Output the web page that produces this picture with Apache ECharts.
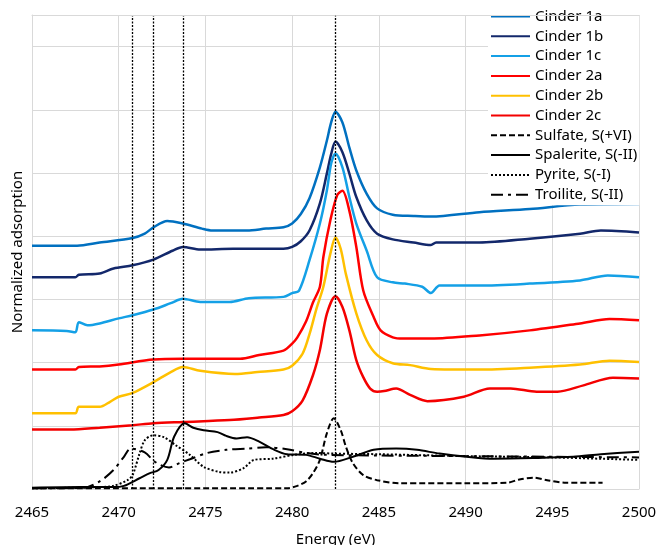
<!DOCTYPE html>
<html>
<head>
<meta charset="utf-8">
<script src="https://cdn.jsdelivr.net/npm/echarts@6/dist/echarts.min.js"></script>
<style>
  html, body { margin: 0; padding: 0; background: #fff; }
  #main { width: 659px; height: 545px; }
</style>
</head>
<body>
<div id="main"></div>
<script>
// S K-edge XANES, [energy eV, normalized absorption + offset]
var cinder1a = [[2465,3.85],[2467.6,3.85],[2468.9,3.9],[2470.8,3.97],[2471.5,4.04],[2472,4.14],[2472.8,4.24],[2473.7,4.2],[2474.8,4.12],[2475.4,4.09],[2477.4,4.09],[2478.5,4.12],[2479.5,4.14],[2480,4.2],[2480.5,4.35],[2481,4.6],[2481.6,5.09],[2482,5.51],[2482.25,5.8],[2482.5,5.97],[2482.9,5.8],[2483.3,5.4],[2483.7,5.04],[2484.3,4.67],[2484.9,4.44],[2485.8,4.34],[2487,4.32],[2488,4.31],[2490.8,4.38],[2493.7,4.43],[2496.6,4.5],[2500,4.51]];
var cinder1b = [[2465,3.35],[2467.5,3.35],[2467.7,3.39],[2468.9,3.41],[2469.7,3.49],[2470.8,3.54],[2472,3.63],[2473.1,3.77],[2473.7,3.83],[2474.7,3.79],[2476.6,3.8],[2479.5,3.8],[2480,3.83],[2480.5,3.92],[2481,4.09],[2481.6,4.52],[2482,4.99],[2482.25,5.3],[2482.5,5.5],[2482.9,5.33],[2483.3,4.99],[2483.7,4.62],[2484.3,4.25],[2484.9,4.04],[2485.8,3.95],[2487,3.9],[2488,3.86],[2488.3,3.9],[2490.8,3.9],[2493.7,3.96],[2496.6,4.04],[2497.8,4.09],[2500,4.06]];
var cinder1c = [[2465,2.51],[2467,2.5],[2467.5,2.48],[2467.7,2.64],[2468.2,2.59],[2468.9,2.62],[2470,2.7],[2470.8,2.75],[2472,2.84],[2473,2.94],[2473.7,3.01],[2474.7,2.96],[2476.4,2.96],[2477.5,3.02],[2479.5,3.04],[2480,3.1],[2480.4,3.14],[2481,3.62],[2481.6,4.2],[2482,4.72],[2482.25,5.15],[2482.5,5.31],[2482.9,5.09],[2483.3,4.62],[2483.7,4.2],[2484.3,3.77],[2484.9,3.35],[2485.8,3.27],[2486.5,3.25],[2487.5,3.2],[2488,3.1],[2488.5,3.22],[2490.8,3.22],[2493.7,3.25],[2496.6,3.3],[2498.2,3.38],[2500,3.35]];
var cinder2a = [[2465,1.89],[2467.5,1.89],[2467.7,1.93],[2468.9,1.94],[2470,1.97],[2472,2.05],[2473.7,2.06],[2477,2.06],[2478.1,2.12],[2479.5,2.19],[2480,2.3],[2480.3,2.4],[2480.8,2.65],[2481.2,2.95],[2481.6,3.2],[2481.8,3.67],[2482.2,4.25],[2482.6,4.65],[2482.9,4.72],[2483.3,4.4],[2483.7,3.83],[2484.1,3.14],[2484.7,2.72],[2485.1,2.51],[2485.8,2.4],[2486.4,2.38],[2488,2.38],[2490.8,2.43],[2493.7,2.51],[2496.6,2.62],[2498.3,2.69],[2500,2.67]];
var cinder2b = [[2465,1.2],[2467.5,1.2],[2467.7,1.3],[2468.9,1.3],[2469.5,1.38],[2470,1.46],[2470.8,1.52],[2472,1.69],[2473,1.85],[2473.7,1.93],[2474.7,1.87],[2476.7,1.82],[2478,1.85],[2479.5,1.89],[2480,1.95],[2480.6,2.14],[2481,2.45],[2481.4,2.85],[2481.8,3.2],[2482.2,3.72],[2482.5,3.98],[2482.8,3.8],[2483.1,3.4],[2483.7,2.78],[2484.3,2.35],[2484.9,2.12],[2485.8,1.99],[2486.8,1.96],[2488,1.9],[2490.8,1.89],[2493.7,1.92],[2496.6,1.97],[2498.3,2.03],[2500,2.01]];
var cinder2c = [[2465,0.94],[2467.2,0.94],[2468.9,0.97],[2470.8,1.01],[2472,1.04],[2473.7,1.06],[2476.4,1.09],[2478.1,1.13],[2479.5,1.17],[2480,1.23],[2480.6,1.4],[2481.2,1.8],[2481.6,2.2],[2482,2.77],[2482.5,3.05],[2482.9,2.88],[2483.3,2.51],[2483.7,2.04],[2484.1,1.77],[2484.5,1.59],[2484.9,1.54],[2485.3,1.55],[2486,1.59],[2486.8,1.49],[2487.8,1.39],[2489.9,1.46],[2491.4,1.59],[2492.6,1.59],[2494.1,1.54],[2495.3,1.54],[2496.8,1.64],[2498.5,1.76],[2500,1.75]];
var sulfate = [[2465,0.01],[2479.7,0.01],[2480.3,0.05],[2480.8,0.12],[2481.2,0.25],[2481.6,0.46],[2482,0.88],[2482.4,1.12],[2482.8,0.93],[2483.1,0.67],[2483.5,0.41],[2484.1,0.22],[2484.9,0.14],[2486.2,0.09],[2490.1,0.09],[2492.4,0.1],[2493.1,0.15],[2493.9,0.18],[2494.7,0.14],[2495.8,0.1],[2497.9,0.1]];
var spalerite = [[2465,0.02],[2467.8,0.03],[2469.7,0.03],[2470.3,0.05],[2471.2,0.17],[2471.8,0.25],[2472.3,0.3],[2472.8,0.46],[2473.2,0.83],[2473.8,1.04],[2474.3,0.97],[2474.9,0.93],[2475.7,0.9],[2476.2,0.84],[2476.8,0.8],[2477.4,0.82],[2478.1,0.75],[2478.9,0.63],[2479.7,0.55],[2480.8,0.54],[2481.6,0.48],[2482.4,0.43],[2483.5,0.51],[2484.7,0.62],[2486,0.64],[2487.2,0.62],[2488.5,0.56],[2490.1,0.51],[2491.6,0.48],[2493.9,0.49],[2496.2,0.51],[2497.8,0.55],[2500,0.59]];
var pyrite = [[2465,0.01],[2468.9,0.03],[2469.7,0.05],[2470.5,0.14],[2470.8,0.22],[2471.2,0.56],[2471.5,0.77],[2472,0.85],[2472.6,0.82],[2473.3,0.69],[2474.1,0.54],[2474.9,0.35],[2475.8,0.27],[2476.4,0.26],[2477.2,0.33],[2477.8,0.46],[2478.9,0.48],[2480.1,0.54],[2481.4,0.57],[2482.5,0.56],[2485,0.55],[2490,0.52],[2495,0.5],[2500,0.46]];
var troilite = [[2465,0.01],[2468,0.02],[2468.9,0.12],[2469.7,0.3],[2470.3,0.51],[2470.7,0.64],[2471.5,0.58],[2472,0.45],[2472.4,0.38],[2472.9,0.34],[2473.5,0.41],[2474.1,0.47],[2475.1,0.57],[2476.2,0.62],[2477.4,0.64],[2478.5,0.66],[2479.7,0.63],[2480.8,0.57],[2482,0.54],[2485,0.53],[2490,0.52],[2495,0.51],[2500,0.5]];

// reference energies (dotted verticals)
var markerEnergies = [2470.8, 2472.0, 2473.7, 2482.5];

var legendNames = ['Cinder 1a','Cinder 1b','Cinder 1c','Cinder 2a','Cinder 2b','Cinder 2c',
  'Sulfate, S(+VI)','Spalerite, S(-II)','Pyrite, S(-I)','Troilite, S(-II)'];

var font = 'Noto Sans';
var gridColor = '#d9d9d9';

function line(name, data, color, width, type) {
  return {
    name: name,
    type: 'line',
    data: data,
    symbol: 'none',
    showSymbol: false,
    smooth: 0.3,
    lineStyle: { color: color, width: width, type: type || 'solid' },
    itemStyle: { color: color },
    emphasis: { disabled: true }
  };
}

var chart = echarts.init(document.getElementById('main'));
chart.setOption({
  animation: false,
  textStyle: { fontFamily: font },
  grid: { left: 32, right: 20, top: 15, bottom: 56, outerBoundsMode: 'none' },
  legend: {
    data: legendNames,
    orient: 'vertical',
    left: 488,
    top: 9,
    padding: [0, 2, 3, 2],
    itemWidth: 39,
    itemHeight: 10,
    itemGap: 4.8,
    backgroundColor: '#fff',
    itemStyle: { opacity: 0 },
    textStyle: { fontFamily: font, fontSize: 15, color: '#000', lineHeight: 15 }
  },
  xAxis: [{
    type: 'value',
    min: 2465,
    max: 2500,
    interval: 5,
    name: 'Energy (eV)',
    nameLocation: 'middle',
    nameGap: 43,
    nameTextStyle: { fontSize: 15, color: '#000' },
    axisLine: { lineStyle: { color: gridColor } },
    axisTick: { show: false },
    axisLabel: { fontSize: 15, color: '#000', margin: 16, formatter: function (v) { return String(v); } },
    splitLine: { lineStyle: { color: gridColor } }
  }, {
    // top edge of the plot area, kept above the legend box
    type: 'value',
    position: 'top',
    min: 2465,
    max: 2500,
    z: 5,
    axisLine: { show: true, lineStyle: { color: gridColor } },
    axisTick: { show: false },
    axisLabel: { show: false },
    splitLine: { show: false }
  }],
  yAxis: {
    type: 'value',
    min: 0,
    max: 7.5,
    interval: 1,
    name: 'Normalized adsorption',
    nameLocation: 'middle',
    nameGap: 7,
    nameTextStyle: { fontSize: 15, color: '#000' },
    axisLine: { show: true, lineStyle: { color: gridColor } },
    axisTick: { show: false },
    axisLabel: { show: false },
    splitLine: { lineStyle: { color: gridColor } }
  },
  series: [
    line('Cinder 1a', cinder1a, '#0070C0', 2.5),
    line('Cinder 1b', cinder1b, '#13286B', 2.5),
    line('Cinder 1c', cinder1c, '#14A0E6', 2.5),
    line('Cinder 2a', cinder2a, '#FF0000', 2.5),
    line('Cinder 2b', cinder2b, '#FFC000', 2.5),
    line('Cinder 2c', cinder2c, '#F40000', 2.5),
    line('Sulfate, S(+VI)', sulfate, '#000', 2, [6, 3]),
    line('Spalerite, S(-II)', spalerite, '#000', 2),
    line('Pyrite, S(-I)', pyrite, '#000', 2, [2, 2]),
    line('Troilite, S(-II)', troilite, '#000', 2, [12, 5, 3, 5]),
    {
      name: 'markers',
      type: 'line',
      data: [],
      silent: true,
      markLine: {
        silent: true,
        symbol: ['none', 'none'],
        label: { show: false },
        lineStyle: { color: '#000', width: 1.3, type: [2, 1.5] },
        data: markerEnergies.map(function (e) { return { xAxis: e }; })
      }
    }
  ]
});
</script>
</body>
</html>
